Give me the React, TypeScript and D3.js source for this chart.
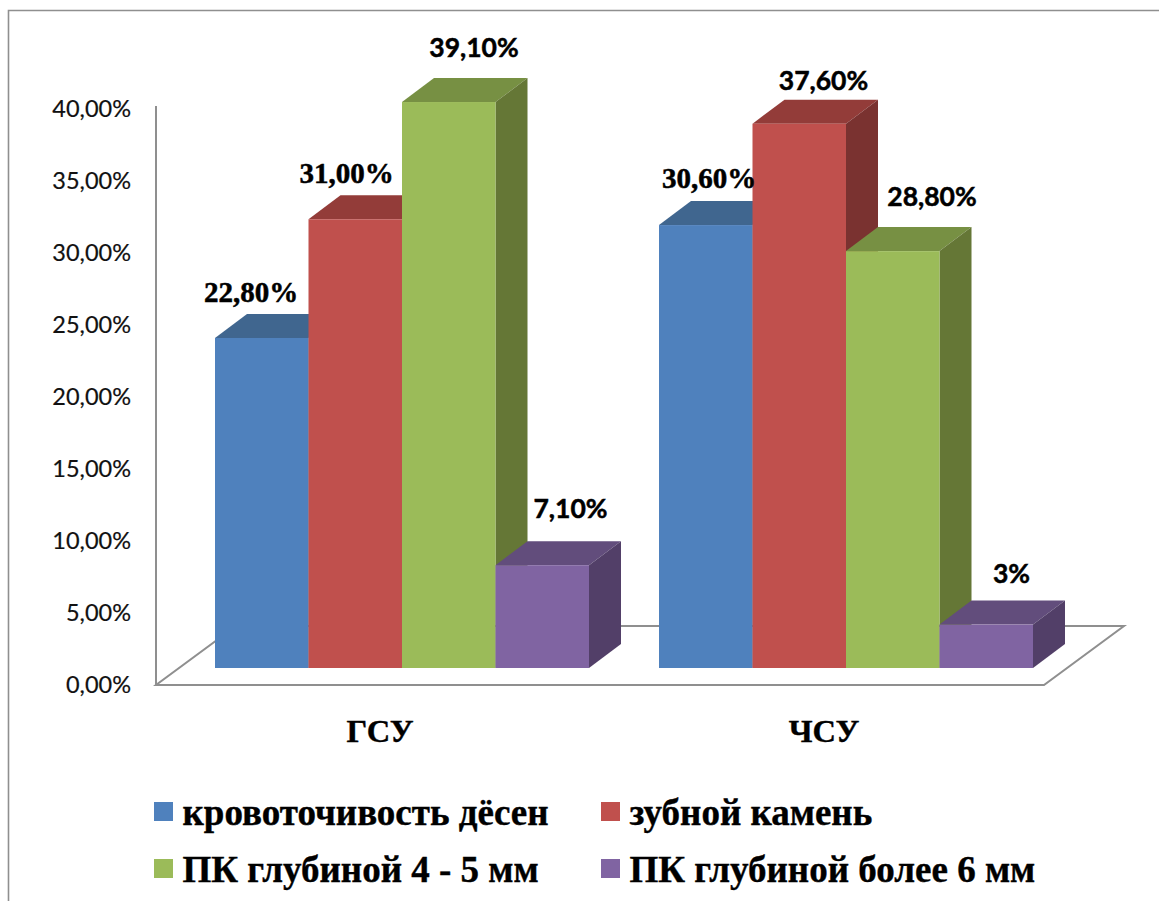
import React from "react";
import * as d3 from "d3";

const categories = ["ГСУ", "ЧСУ"];
const seriesNames = ["кровоточивость дёсен", "зубной камень", "ПК глубиной 4 - 5 мм", "ПК глубиной более 6 мм"];
const valuesGSU = [22.8, 31.0, 39.1, 7.1];
const valuesCSU = [30.6, 37.6, 28.8, 3];
const labelsGSU = ["22,80%", "31,00%", "39,10%", "7,10%"];
const labelsCSU = ["30,60%", "37,60%", "28,80%", "3%"];
const tickValues = [0, 5, 10, 15, 20, 25, 30, 35, 40];
const frontColors = ["#4f81bd", "#c0504d", "#9bbb59", "#8064a2"];
const topColors = ["#40668f", "#933c39", "#779043", "#624d7c"];
const sideColors = ["#375a85", "#7a3230", "#657736", "#523f68"];

const SERIF = "'Liberation Serif', serif";
const SANS = "Lato, sans-serif";

// Label placement per bar: centre x offset from the bar and baseline above the bar top,
// plus the typeface each data label uses.
const labelStyle = [
  [{ dx: 36, dy: -36, serif: true }, { dx: 38, dy: -36, serif: true }, { dx: 72, dy: -45, serif: false }, { dx: 75, dy: -47, serif: false }],
  [{ dx: 50, dy: -37, serif: true }, { dx: 71, dy: -34, serif: false }, { dx: 86, dy: -45, serif: false }, { dx: 72, dy: -42, serif: false }],
];

const axisX = 156;
const axisBottom = 685;
const axisTop = 106;
const floorRight = 1044;
const floorDepth = { x: 80, y: -59 };
const barDepth = { x: 32, y: -24 };
const frontLift = 17;
const lineColor = "#8f8f8f";

const y = d3.scaleLinear().domain([0, 40]).range([axisBottom, axisTop]);
// Tick labels sit on a slightly tighter ladder than the axis itself.
const tickLabelY = d3.scaleLinear().domain([0, 40]).range([693, 117]);
const groupX = d3.scaleBand<string>().domain(categories).range([215, 1103]);
const barX = d3.scaleBand<string>().domain(seriesNames).range([0, 374]);

const tickFormat = (v: number) => d3.format(".2f")(v).replace(".", ",") + "%";
const poly = (pts: [number, number][]) => d3.line()(pts) + "Z";

export default function App() {
  const base = axisBottom - frontLift;
  const groups = [
    { name: categories[0], values: valuesGSU, labels: labelsGSU },
    { name: categories[1], values: valuesCSU, labels: labelsCSU },
  ];
  return (
    <svg
      width={1159}
      height={901}
      style={{ position: "absolute", left: 0, top: 0, display: "block", background: "#fff" }}
    >
      {/* outer frame, open on the right and at the bottom */}
      <path d="M8.5 901V10.5H1159" fill="none" stroke={lineColor} strokeWidth={1.6} />

      {/* value axis */}
      <line x1={axisX} x2={axisX} y1={axisTop} y2={axisBottom} stroke={lineColor} strokeWidth={2} />
      {tickValues.map((t) => (
        <text key={t} x={131} y={tickLabelY(t)} textAnchor="end" fontFamily={SANS} fontSize={23.5} fill="#111" stroke="#111" strokeWidth={0.2}>
          {tickFormat(t)}
        </text>
      ))}

      {/* floor of the 3D plot */}
      <path
        d={poly([
          [axisX, axisBottom],
          [floorRight, axisBottom],
          [floorRight + floorDepth.x, axisBottom + floorDepth.y],
          [axisX + floorDepth.x, axisBottom + floorDepth.y],
        ])}
        fill="#fff"
        stroke={lineColor}
        strokeWidth={2}
      />

      {groups.map((g, gi) => (
        <g key={g.name}>
          {seriesNames.map((s, i) => {
            const x0 = groupX(g.name)! + barX(s)!;
            const x1 = x0 + barX.bandwidth();
            const top = y(g.values[i]) - frontLift;
            return (
              <g key={s}>
                <path
                  d={poly([
                    [x0, top],
                    [x0 + barDepth.x, top + barDepth.y],
                    [x1 + barDepth.x, top + barDepth.y],
                    [x1, top],
                  ])}
                  fill={topColors[i]}
                />
                <path
                  d={poly([
                    [x1, top],
                    [x1 + barDepth.x, top + barDepth.y],
                    [x1 + barDepth.x, base + barDepth.y],
                    [x1, base],
                  ])}
                  fill={sideColors[i]}
                />
                <rect x={x0} y={top} width={barX.bandwidth()} height={base - top} fill={frontColors[i]} />
              </g>
            );
          })}
          {seriesNames.map((s, i) => {
            const st = labelStyle[gi][i];
            const x0 = groupX(g.name)! + barX(s)!;
            const top = y(g.values[i]) - frontLift;
            return (
              <text
                key={s}
                x={x0 + st.dx}
                y={top + st.dy}
                textAnchor={"middle"}
                fontFamily={st.serif ? SERIF : SANS}
                fontWeight={700}
                fontSize={st.serif ? 29 : 26.5}
                fill="#000"
                stroke="#000"
                strokeWidth={0.5}
              >
                {g.labels[i]}
              </text>
            );
          })}
          <text
            x={groupX(g.name)! + 165}
            y={742}
            textAnchor="middle"
            fontFamily={SERIF}
            fontWeight={700}
            fontSize={32.5}
            fill="#000"
            stroke="#000"
            strokeWidth={0.4}
          >
            {g.name}
          </text>
        </g>
      ))}

      {/* legend, two rows by two columns */}
      {seriesNames.map((s, i) => {
        const col = i % 2;
        const row = Math.floor(i / 2);
        const sx = col === 0 ? 154 : 601;
        const sy = row === 0 ? 802 : 859;
        return (
          <g key={s}>
            <rect x={sx} y={sy} width={19} height={19} fill={frontColors[i]} />
            <text
              x={sx + 28.5}
              y={sy + 23}
              fontFamily={SERIF}
              fontWeight={700}
              fontSize={37}
              fill="#000"
              stroke="#000"
              strokeWidth={0.4}
            >
              {s}
            </text>
          </g>
        );
      })}
    </svg>
  );
}
